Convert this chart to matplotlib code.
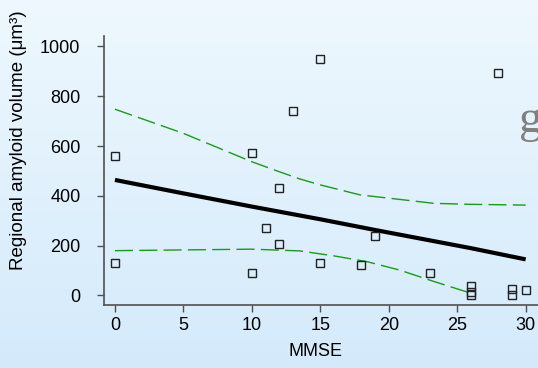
import numpy as np
import matplotlib
matplotlib.use('Agg')
import matplotlib.pyplot as plt

# MMSE vs regional amyloid volume
mmse = [0, 0, 10, 10, 11, 12, 12, 13, 15, 15, 18, 19, 23, 26, 26, 26, 28, 29, 29, 30]
volume = [560, 132, 571, 89, 270, 432, 206, 740, 948, 132, 124, 239, 89, 40, 15, 3, 895, 25, 3, 23]

# fitted line and confidence band
fit_x = [0, 5, 10, 15, 19, 26, 30]
fit_y = [464, 410, 357, 306, 263, 190, 145]
upper_x = [0, 5, 10, 12, 13.5, 15, 17.9, 23.3, 26, 30]
upper_y = [748, 651, 537, 497, 468, 444, 404, 370, 366, 363]
lower_x = [0, 5, 10, 13.5, 16, 18.4, 20.8, 23.2, 26]
lower_y = [180, 183, 186, 179, 159, 136, 102, 58, 9]

xticks = [0, 5, 10, 15, 20, 25, 30]
yticks = [0, 200, 400, 600, 800, 1000]

plt.rcParams['font.family'] = ['Liberation Sans', 'DejaVu Sans']

fig = plt.figure(figsize=(5.38, 3.68), dpi=100)

# light blue gradient background
bg = fig.add_axes([0, 0, 1, 1], zorder=-1)
grad = np.linspace(0, 1, 256).reshape(-1, 1)
top = np.array([238, 248, 254]) / 255
bottom = np.array([212, 234, 251]) / 255
img = top + (bottom - top) * grad[:, :, None]
bg.imshow(img, aspect='auto', extent=[0, 1, 0, 1])
bg.axis('off')

# cut-off word at right edge
fig.text(519 / 538, 1 - 132 / 368, "g", family='Liberation Serif', fontsize=34,
         color='#808080', va='baseline', ha='left')

ax = fig.add_axes([104 / 538, 1 - 304.7 / 368, 1 - 104 / 538, (304.7 - 36) / 368])
ax.patch.set_alpha(0)

ax.plot(upper_x, upper_y, color='#1a9a1a', lw=1.0, dashes=(13, 4.5))
ax.plot(lower_x, lower_y, color='#1a9a1a', lw=1.0, dashes=(13, 4.5))
ax.plot(fit_x, fit_y, color='black', lw=3.0, solid_capstyle='butt')
ax.plot(mmse, volume, ls='none', marker='s', ms=5.5, mfc='none', mec='#222222', mew=1.0)

ax.set_xlim(-0.8, 30.9)
ax.set_ylim(-37, 1042)
ax.set_xticks(xticks)
ax.set_yticks(yticks)
ax.tick_params(axis='both', labelsize=13, direction='out', length=5, width=1.0, color='#505050')
ax.tick_params(axis='y', pad=12)
ax.tick_params(axis='x', pad=4)

for side in ['top', 'right']:
    ax.spines[side].set_visible(False)
for side in ['left', 'bottom']:
    ax.spines[side].set_color('#505050')
    ax.spines[side].set_linewidth(1.2)

w_px, h_px = 434.0, 268.7
ax.set_xlabel("MMSE", fontsize=13, va='center')
ax.set_ylabel("Regional amyloid volume (μm³)", fontsize=13.5, va='center')
ax.xaxis.set_label_coords((315 - 104) / w_px, -(351.5 - 304.7) / h_px)
ax.yaxis.set_label_coords(-(104 - 19) / w_px, (304.7 - 140) / h_px)

plt.savefig('out.png', dpi=100)
